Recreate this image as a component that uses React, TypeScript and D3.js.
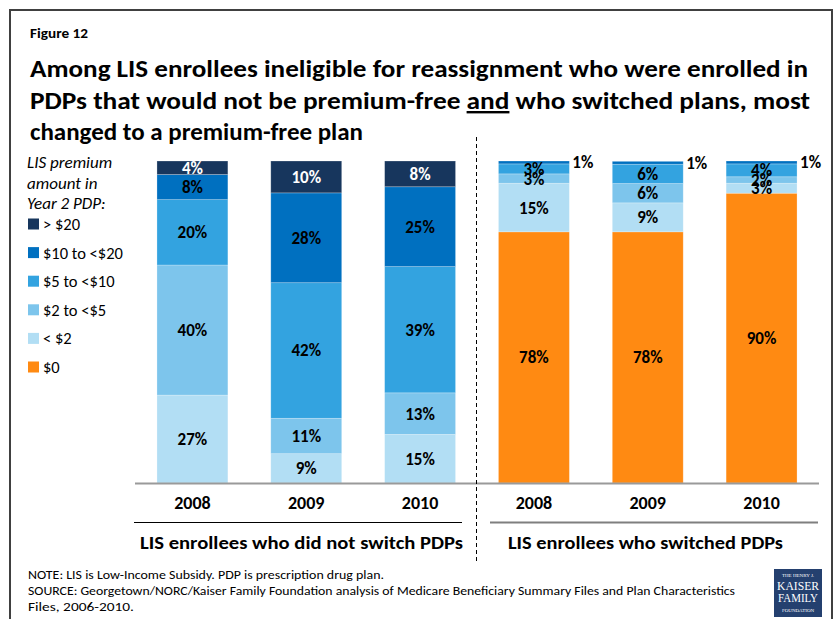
import React from "react";
import * as d3 from "d3";

const barKeys = ["ns-2008", "ns-2009", "ns-2010", "sw-2008", "sw-2009", "sw-2010"];
const yearLabels = ["2008", "2009", "2010", "2008", "2009", "2010"];
const groupLabels = ["LIS enrollees who did not switch PDPs", "LIS enrollees who switched PDPs"];

const seriesNames = ["$0", "< $2", "$2 to <$5", "$5 to <$10", "$10 to <$20", "> $20"];
const seriesColors = ["#FF8A12", "#B2DEF4", "#7DC5EC", "#33A3E0", "#0070C0", "#17365D"];

const v0 = [0, 0, 0, 78, 78, 90];
const vLt2 = [27.3, 9.1, 15.1, 15.1, 9.0, 3.1];
const v2to5 = [40.4, 11.0, 12.9, 2.9, 6.0, 2.0];
const v5to10 = [20.3, 42.1, 39.2, 3.1, 6.0, 4.0];
const v10to20 = [7.8, 27.9, 24.8, 0.9, 0.9, 0.9];
const vGt20 = [4.2, 9.9, 8.0, 0, 0, 0];
const seriesValues = [v0, vLt2, v2to5, v5to10, v10to20, vGt20];

const legendOrder = [5, 4, 3, 2, 1, 0];
const legendTitle = ["LIS premium", "amount in", "Year 2 PDP:"];

const FONT = "Carlito, Calibri, Lato, 'Open Sans', sans-serif";

export default function App() {
  const W = 836, H = 619;
  const x = d3.scaleBand<string>().domain(barKeys).range([135, 819]).paddingInner(0.377).paddingOuter(0.193);
  const y = d3.scaleLinear().domain([0, 100]).range([483, 161]);

  const rows = barKeys.map((k, i) => {
    const r: any = { key: k };
    seriesNames.forEach((s, j) => (r[s] = seriesValues[j][i]));
    return r;
  });
  const stack = d3.stack<any>().keys(seriesNames)(rows);

  const bw = x.bandwidth();

  return (
    <svg width={W} height={H} style={{ position: "absolute", left: 0, top: 0, background: "#fff" }} fontFamily={FONT}>
      <rect x={0} y={0} width={W} height={H} fill="#fff" />
      {/* frame */}
      <path d={`M10,${H + 5} V10 H832 V${H + 5}`} fill="none" stroke="#404040" strokeWidth={2} />

      {/* titles */}
      <text x={30} y={38} fontSize={13} fontWeight="bold" textLength={58} lengthAdjust="spacingAndGlyphs">Figure 12</text>
      <g fontSize={24} fontWeight="bold" fill="#000">
        <text x={30} y={77} textLength={778} lengthAdjust="spacingAndGlyphs">Among LIS enrollees ineligible for reassignment who were enrolled in</text>
        <text x={30} y={109} textLength={780} lengthAdjust="spacingAndGlyphs">
          PDPs that would not be premium-free <tspan textDecoration="underline" style={{ textDecoration: "underline" }}>and</tspan> who switched plans, most
        </text>
        <text x={30} y={140} textLength={333} lengthAdjust="spacingAndGlyphs">changed to a premium-free plan</text>
      </g>

      {/* legend */}
      <g fontSize={17} fontStyle="italic">
        {legendTitle.map((t, i) => (
          <text key={t} x={27} y={168 + i * 20.5}>{t}</text>
        ))}
      </g>
      <g fontSize={16.5}>
        {legendOrder.map((si, i) => (
          <g key={si} transform={`translate(28,${224 + i * 28.6})`}>
            <rect x={0} y={-5.5} width={11} height={11} fill={seriesColors[si]} />
            <text x={15} y={6}>{seriesNames[si]}</text>
          </g>
        ))}
      </g>

      {/* bars */}
      {stack.map((layer, si) => (
        <g key={layer.key} fill={seriesColors[si]}>
          {layer.map((d, i) => {
            const h = y(d[0]) - y(d[1]);
            if (h <= 0) return null;
            return (
              <rect key={i} x={x(barKeys[i])} y={y(d[1])} width={bw} height={h} stroke="#ffffff" strokeOpacity={0.35} strokeWidth={0.7} />
            );
          })}
        </g>
      ))}

      {/* value labels */}
      <g fontSize={17} fontWeight="bold" textAnchor="middle">
        {stack.map((layer, si) =>
          layer.map((d, i) => {
            const val = seriesValues[si][i];
            if (val < 0.5) return null;
            const label = `${Math.round(val)}%`;
            const cy = (y(d[0]) + y(d[1])) / 2;
            if (val < 1.5) {
              return (
                <text key={`${si}-${i}`} x={(x(barKeys[i]) as number) + bw + 3} y={cy + 6} textAnchor="start" fill="#000">{label}</text>
              );
            }
            return (
              <text key={`${si}-${i}`} x={(x(barKeys[i]) as number) + bw / 2} y={cy + 6} fill={si === 5 ? "#fff" : "#000"}>{label}</text>
            );
          })
        )}
      </g>

      {/* baseline */}
      <line x1={135} x2={819} y1={483.5} y2={483.5} stroke="#9a9a9a" strokeWidth={2} />

      {/* year labels */}
      <g fontSize={18} fontWeight="bold" textAnchor="middle">
        {barKeys.map((k, i) => (
          <text key={k} x={(x(k) as number) + bw / 2} y={509}>{yearLabels[i]}</text>
        ))}
      </g>

      {/* group lines & labels */}
      <line x1={134} x2={462} y1={522.5} y2={522.5} stroke="#000" strokeWidth={1} />
      <line x1={490} x2={818} y1={522.5} y2={522.5} stroke="#7f7f7f" strokeWidth={2} />
      <g fontSize={18} fontWeight="bold">
        <text x={140} y={549} textLength={323} lengthAdjust="spacingAndGlyphs">{groupLabels[0]}</text>
        <text x={508} y={549} textLength={275} lengthAdjust="spacingAndGlyphs">{groupLabels[1]}</text>
      </g>

      {/* separator */}
      <line x1={476.5} x2={476.5} y1={137} y2={561} stroke="#000" strokeWidth={1} strokeDasharray="4,3" />

      {/* footer */}
      <g fontSize={12.5} fill="#000">
        <text x={28} y={579} textLength={356} lengthAdjust="spacingAndGlyphs">NOTE:  LIS is Low-Income Subsidy. PDP is prescription drug plan.</text>
        <text x={28} y={595} textLength={707} lengthAdjust="spacingAndGlyphs">SOURCE: Georgetown/NORC/Kaiser Family Foundation analysis of Medicare Beneficiary Summary Files and Plan Characteristics</text>
        <text x={28} y={611} textLength={106} lengthAdjust="spacingAndGlyphs">Files, 2006-2010.</text>
      </g>

      {/* logo */}
      <g>
        <rect x={774} y={569} width={48} height={48} fill="#24406F" />
        <g fill="#fff" fontFamily="'Liberation Serif', 'DejaVu Serif', serif" textAnchor="middle">
          <text x={798} y={577} fontSize={5}>THE HENRY J.</text>
          <text x={798} y={590} fontSize={12} textLength={42} lengthAdjust="spacingAndGlyphs">KAISER</text>
          <text x={798} y={602} fontSize={12} textLength={40} lengthAdjust="spacingAndGlyphs">FAMILY</text>
          <text x={798} y={612} fontSize={5}>FOUNDATION</text>
        </g>
      </g>
    </svg>
  );
}
